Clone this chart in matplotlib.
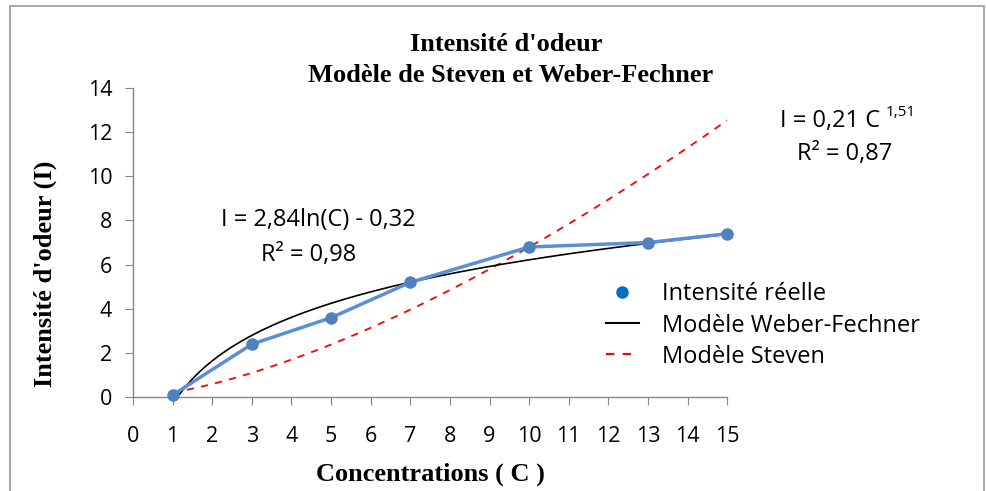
import numpy as np
import matplotlib
matplotlib.use("Agg")
from matplotlib import pyplot as plt
from matplotlib.patches import Rectangle
from matplotlib.lines import Line2D

# Measured data
concentrations = [1, 3, 5, 7, 10, 13, 15]
intensite = [0.1, 2.4, 3.6, 5.2, 6.8, 7.0, 7.4]

# Trendline coefficients (as printed on the chart)
wf_a, wf_b = 2.84, -0.32      # I = a ln(C) + b
st_k, st_n = 0.21, 1.51       # I = k C^n

x_ticks = list(range(0, 16))
y_ticks = list(range(0, 15, 2))

SANS = ["Open Sans", "DejaVu Sans"]
SERIF = ["Liberation Serif", "DejaVu Serif"]
GRAY = "#868686"

fig = plt.figure(figsize=(9.87, 4.91), dpi=100)
ax = fig.add_axes([0.1348, 0.191, 0.602, 0.630])

# curves
c = np.linspace(1, 15, 300)
ax.plot(c, wf_a * np.log(c) + wf_b, color="black", lw=1.2, zorder=3)
ax.plot(c, st_k * c ** st_n, color="#FF0000", lw=1.3, ls=(0, (4, 4)), zorder=2)
ax.plot(concentrations, intensite, color="#5B8FD5", lw=2.5, marker="o",
        markersize=8, markerfacecolor="#4F81BD", markeredgecolor="#4F81BD",
        zorder=4, clip_on=False)

ax.set_xlim(0, 15)
ax.set_ylim(0, 14)
ax.set_xticks(x_ticks)
ax.set_yticks(y_ticks)
for s in ["top", "right"]:
    ax.spines[s].set_visible(False)
for s in ["left", "bottom"]:
    ax.spines[s].set_color(GRAY)
    ax.spines[s].set_linewidth(1.0)
ax.tick_params(direction="out", length=6, color=GRAY, labelsize=15.5)
ax.tick_params(axis="x", pad=15)
ax.tick_params(axis="y", pad=9)
for lab in ax.get_xticklabels() + ax.get_yticklabels():
    lab.set_family(SANS)

ax.set_xlabel("Concentrations ( C )", family=SERIF, fontweight="bold",
              fontsize=19, labelpad=11)
fig.text(0.046, 0.442, "Intensité d'odeur (I)", family=SERIF,
         fontweight="bold", fontsize=19, rotation=90,
         ha="center", va="center")

fig.text(0.513, 0.910, "Intensité d'odeur", family=SERIF, fontweight="bold",
         fontsize=19, ha="center", va="center")
fig.text(0.517, 0.847, "Modèle de Steven et Weber-Fechner", family=SERIF,
         fontweight="bold", fontsize=19, ha="center", va="center")

# equations
fig.text(0.322, 0.552, "I = 2,84ln(C) - 0,32", family=SANS, fontsize=17,
         ha="center", va="center")
fig.text(0.313, 0.480, "R² = 0,98", family=SANS, fontsize=17,
         ha="center", va="center")
fig.text(0.892, 0.754, "I = 0,21 C", family=SANS, fontsize=17,
         ha="right", va="center")
fig.text(0.897, 0.770, "1,51", family=SANS, fontsize=11,
         ha="left", va="center")
fig.text(0.856, 0.687, "R² = 0,87", family=SANS, fontsize=17,
         ha="center", va="center")

handles = [
    Line2D([], [], ls="none", marker="o", markersize=8, color="#0070C0"),
    Line2D([], [], color="black", lw=1.5),
    Line2D([], [], color="#FF0000", lw=1.5, ls=(0, (4, 4))),
]
labels = ["Intensité réelle", "Modèle Weber-Fechner", "Modèle Steven"]
fig.legend(handles, labels, loc="upper left", bbox_to_anchor=(0.592, 0.468),
           frameon=False, prop={"family": SANS, "size": 17},
           handlelength=1.4, labelspacing=0.3, handletextpad=1.0)

# outer frame
fig.patches.append(Rectangle((0.010, -0.01), 0.987, 0.998,
                             transform=fig.transFigure, fill=False,
                             edgecolor="#9A9A9A", lw=1.2))

fig.savefig("out.png", dpi=100)
